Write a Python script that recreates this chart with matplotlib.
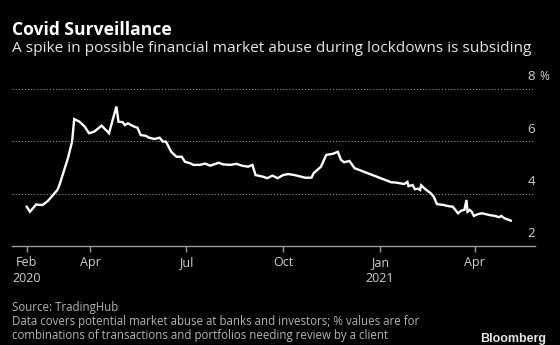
import pandas as pd
import matplotlib.pyplot as plt
import matplotlib.dates as mdates

# values (% of combinations needing review)
dates = [
    "2020-02-01", "2020-02-04", "2020-02-10", "2020-02-13", "2020-02-16", "2020-02-21",
    "2020-03-01", "2020-03-03", "2020-03-11", "2020-03-15", "2020-03-17", "2020-03-22",
    "2020-03-27", "2020-03-31", "2020-04-05", "2020-04-12", "2020-04-19", "2020-04-26",
    "2020-04-28", "2020-05-02", "2020-05-04", "2020-05-07", "2020-05-10", "2020-05-13",
    "2020-05-16", "2020-05-19", "2020-05-24", "2020-05-27", "2020-06-01", "2020-06-06",
    "2020-06-09", "2020-06-12", "2020-06-17", "2020-06-22", "2020-06-27", "2020-06-30",
    "2020-07-05", "2020-07-08", "2020-07-14", "2020-07-19", "2020-07-24", "2020-08-01",
    "2020-08-05", "2020-08-12", "2020-08-18", "2020-08-23", "2020-08-29", "2020-09-02",
    "2020-09-05", "2020-09-12", "2020-09-16", "2020-09-21", "2020-09-26", "2020-10-01",
    "2020-10-06", "2020-10-12", "2020-10-22", "2020-10-28", "2020-10-30", "2020-11-06",
    "2020-11-11", "2020-11-17", "2020-11-22", "2020-11-25", "2020-11-28", "2020-12-03",
    "2020-12-08", "2020-12-14", "2021-01-12", "2021-01-15", "2021-01-24", "2021-01-27",
    "2021-01-28", "2021-02-01", "2021-02-03", "2021-02-06", "2021-02-08", "2021-02-09",
    "2021-02-13", "2021-02-18", "2021-02-21", "2021-02-24", "2021-03-02", "2021-03-06",
    "2021-03-11", "2021-03-16", "2021-03-19", "2021-03-22", "2021-03-24", "2021-03-25",
    "2021-03-27", "2021-03-29", "2021-03-31", "2021-04-04", "2021-04-08", "2021-04-15",
    "2021-04-20", "2021-04-24", "2021-04-26", "2021-04-29", "2021-05-05",
]
values = [
    3.50, 3.31, 3.59, 3.57, 3.57, 3.72,
    4.14, 4.33, 5.35, 5.99, 6.85, 6.75,
    6.56, 6.31, 6.37, 6.60, 6.31, 7.33,
    6.75, 6.73, 6.62, 6.69, 6.62, 6.56,
    6.52, 6.24, 6.21, 6.14, 6.09, 6.14,
    5.99, 5.99, 5.60, 5.41, 5.41, 5.22,
    5.16, 5.10, 5.10, 5.15, 5.07, 5.18,
    5.12, 5.10, 5.14, 5.07, 5.03, 5.10,
    4.71, 4.65, 4.59, 4.69, 4.59, 4.71,
    4.75, 4.71, 4.61, 4.61, 4.78, 5.03,
    5.48, 5.52, 5.60, 5.29, 5.20, 5.25,
    4.97, 4.88, 4.43, 4.43, 4.37, 4.45,
    4.29, 4.33, 4.17, 4.19, 4.14, 4.32,
    4.17, 4.02, 3.88, 3.60, 3.57, 3.53,
    3.50, 3.25, 3.35, 3.38, 3.76, 3.31,
    3.38, 3.31, 3.15, 3.22, 3.25, 3.18,
    3.15, 3.10, 3.15, 3.06, 2.97,
]
tick_dates = ["2020-02-01", "2020-04-01", "2020-07-01", "2020-10-01", "2021-01-01", "2021-04-01"]
tick_labels = ["Feb\n2020", "Apr", "Jul", "Oct", "Jan\n2021", "Apr"]
y_ticks = [2, 4, 6, 8]

W, H = 560, 345
fig = plt.figure(figsize=(W / 100, H / 100), dpi=100, facecolor="black")
ax = fig.add_axes([12 / W, 1 - 246 / H, (535 - 12) / W, (246 - 89) / H])
ax.set_facecolor("black")

x = pd.to_datetime(dates)
ax.plot(x, values, color="white", lw=1.7, solid_joinstyle="miter")

ax.set_xlim(pd.Timestamp("2020-01-18"), pd.Timestamp("2021-05-28"))
ax.set_ylim(2, 8)

for v in y_ticks[1:]:
    ax.axhline(v, color="#8a8a8a", lw=0.8, ls=(0, (1, 1.8)), zorder=0)

for s in ["top", "right", "left"]:
    ax.spines[s].set_visible(False)
ax.spines["bottom"].set_color("#9a9a9a")
ax.spines["bottom"].set_linewidth(1.0)

ax.set_xticks(pd.to_datetime(tick_dates))
ax.set_xticklabels(tick_labels, color="#cfcfcf", fontsize=9, linespacing=1.3,
                   family="Open Sans")
ax.tick_params(axis="x", length=4.5, width=1.0, color="#9a9a9a", pad=3)
ax.set_yticks([])

for v in y_ticks:
    ax.text(1.0, v + 0.46, str(v), transform=ax.get_yaxis_transform(),
            ha="right", va="center", color="#cfcfcf", fontsize=9.5, family="Open Sans")
ax.text(1.008, y_ticks[-1] + 0.46, "%", transform=ax.get_yaxis_transform(),
        ha="left", va="center", color="#cfcfcf", fontsize=8.5, family="Open Sans")

fig.text(12.5 / W, 1 - 35 / H, "Covid Surveillance", color="white", fontsize=12.6,
         fontweight="bold", family="Open Sans", va="baseline")
fig.text(12.5 / W, 1 - 51.5 / H,
         "A spike in possible financial market abuse during lockdowns is subsiding",
         color="#e6e6e6", fontsize=11.1, family="Open Sans", va="baseline")

fig.text(12.5 / W, 1 - 311 / H, "Source: TradingHub", color="#b4b4b4", fontsize=8.3,
         family="Open Sans", va="baseline")
fig.text(12.5 / W, 1 - 325 / H,
         "Data covers potential market abuse at banks and investors; % values are for",
         color="#b4b4b4", fontsize=8.3, family="Open Sans", va="baseline")
fig.text(12.5 / W, 1 - 339 / H,
         "combinations of transactions and portfolios needing review by a client",
         color="#b4b4b4", fontsize=8.3, family="Open Sans", va="baseline")
fig.text(546 / W, 1 - 342 / H, "Bloomberg", color="#e6e6e6", fontsize=9,
         fontweight="bold", family="Liberation Sans", ha="right", va="baseline")

fig.savefig("out.png", dpi=100, facecolor="black")
